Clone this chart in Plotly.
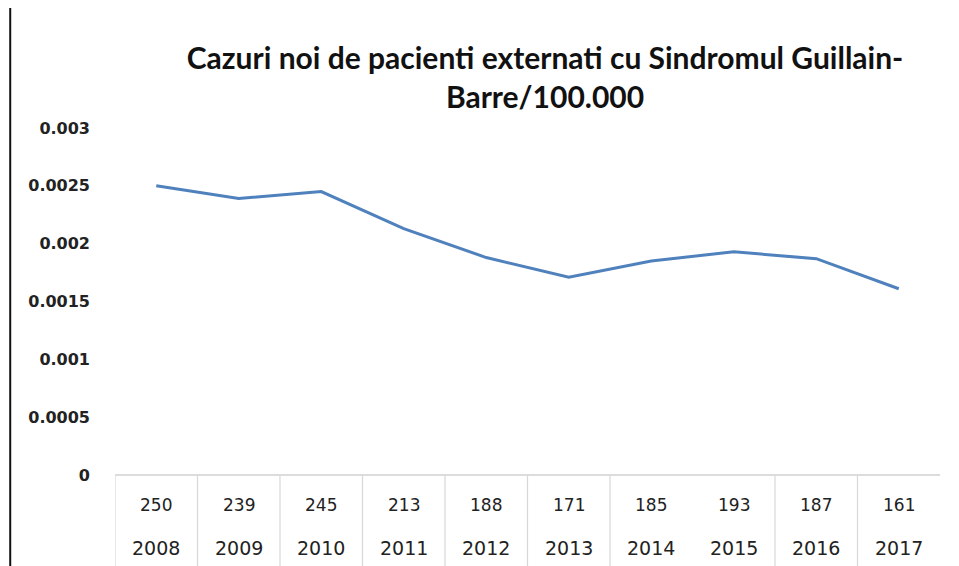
import plotly.graph_objects as go

years = ["2008", "2009", "2010", "2011", "2012", "2013", "2014", "2015", "2016", "2017"]
cases = [250, 239, 245, 213, 188, 171, 185, 193, 187, 161]
rate = [c / 100000 for c in cases]
y_ticks = [0, 0.0005, 0.001, 0.0015, 0.002, 0.0025, 0.003]
y_tick_text = ["0", "0.0005", "0.001", "0.0015", "0.002", "0.0025", "0.003"]
title_text = "Cazuri noi de pacienti externati cu Sindromul Guillain-<br>Barre/100.000"

idx = list(range(len(years)))

fig = go.Figure()
fig.add_trace(go.Scatter(
    x=idx, y=rate, mode="lines",
    line=dict(color="#4f81bd", width=3),
    hoverinfo="skip", showlegend=False,
))

annotations = []
for i, (c, yv) in enumerate(zip(cases, years)):
    annotations.append(dict(x=i, y=-0.0865, xref="x", yref="paper", text=str(c),
                            yanchor="middle", xanchor="center",
                            showarrow=False, font=dict(family="DejaVu Sans", size=17, color="#222")))
    annotations.append(dict(x=i, y=-0.21, xref="x", yref="paper", text=yv,
                            yanchor="middle", xanchor="center",
                            showarrow=False, font=dict(family="DejaVu Sans", size=19, color="#222")))

shapes = [
    dict(type="line", xref="paper", yref="paper", x0=0, x1=1, y0=0, y1=0,
         line=dict(color="#d0d0d0", width=1.5)),
    dict(type="line", xref="paper", yref="paper", x0=-0.127, x1=-0.127, y0=-0.3, y1=1.4,
         line=dict(color="#111", width=2)),
]
# table dividers (none between 2014 and 2015)
for k in range(len(years)):
    if k == 7:
        continue
    shapes.append(dict(type="line", xref="x", yref="paper", x0=k - 0.5, x1=k - 0.5,
                       y0=0, y1=-0.27, line=dict(color="#d8d8d8", width=1.2)))

fig.update_layout(
    width=951, height=558,
    margin=dict(l=107, r=19, t=120, b=91),
    paper_bgcolor="white", plot_bgcolor="white",
    title=dict(text=title_text, x=0.5647, xanchor="center", y=0.89, yanchor="middle",
               font=dict(family="Lato", size=30, color="#111", weight="bold")),
    xaxis=dict(range=[-0.5, 9.5], showgrid=False, zeroline=False, showticklabels=False,
               showline=False, ticks=""),
    yaxis=dict(range=[0, 0.003], tickvals=y_ticks, ticktext=y_tick_text,
               showgrid=False, zeroline=False, showline=False,
               tickfont=dict(family="DejaVu Sans", size=16, color="#222", weight="bold"),
               ticklabelstandoff=24),
    annotations=annotations,
    shapes=shapes,
)

fig.write_html("out.html")
